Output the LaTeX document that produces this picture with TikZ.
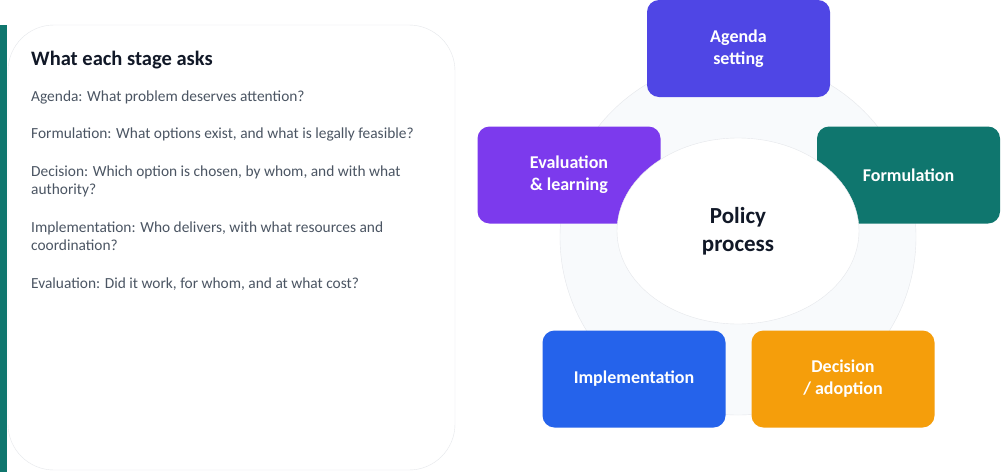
\documentclass[tikz,border=0pt]{standalone}
\usepackage{fontspec}
\setmainfont{Carlito}
\usetikzlibrary{shapes.geometric}
\definecolor{tealbar}{HTML}{0F766E}
\definecolor{agendac}{HTML}{4F46E5}
\definecolor{evalc}{HTML}{7C3AED}
\definecolor{implc}{HTML}{2563EB}
\definecolor{decic}{HTML}{F59E0B}
\definecolor{ringfill}{HTML}{F8FAFC}
\definecolor{ringline}{HTML}{E5E7EB}
\definecolor{qgray}{HTML}{4B5563}
\definecolor{inkc}{HTML}{111827}
\tikzset{
	stage/.style={rectangle, rounded corners=12pt, minimum width=183pt, minimum height=97pt, text=white, align=center, font=\bfseries\fontsize{18}{22}\selectfont},
	qline/.style={anchor=base west, inner sep=0pt, text=qgray, font=\fontsize{15.4}{18}\selectfont}
}
\begin{document}
\begin{tikzpicture}[x=1pt,y=-1pt]
		\useasboundingbox (0,0) rectangle (1005,472);
		\fill[white] (0,0) rectangle (1005,472);

		% left panel
		\draw[ringline, fill=white, rounded corners=46pt] (8,25) rectangle (455,470);
		\fill[tealbar] (0,25) rectangle (7,472);

		\node[anchor=base west, inner sep=0pt, text=inkc, font=\bfseries\fontsize{20.5}{22}\selectfont] (title) at (31,65) {What each stage asks};
		\node[qline] (q1) at (31,101) {Agenda: What problem deserves attention?};
		\node[qline] (q2) at (31,138) {Formulation: What options exist, and what is legally feasible?};
		\node[qline] (q3) at (31,176) {Decision: Which option is chosen, by whom, and with what};
		\node[qline] (q3b) at (31,194) {authority?};
		\node[qline] (q4) at (31,232) {Implementation: Who delivers, with what resources and};
		\node[qline] (q4b) at (31,250) {coordination?};
		\node[qline] (q5) at (31,288) {Evaluation: Did it work, for whom, and at what cost?};

		% cycle
		\draw[ringline, fill=ringfill] (738,237) circle (178);

		\node[stage, fill=agendac] (agenda) at (738.5,48.5) {Agenda\\setting};
		\node[stage, fill=tealbar] (form) at (908.5,175) {Formulation};
		\node[stage, fill=evalc] (eval) at (569,175) {Evaluation\\\& learning};
		\node[stage, fill=implc] (impl) at (634,379) {Implementation};
		\node[stage, fill=decic] (deci) at (843,379) {Decision\\/ adoption};

		\node[ellipse, draw=ringline, fill=white, minimum width=242pt, minimum height=186pt, text=inkc, align=center, font=\bfseries\fontsize{23}{28}\selectfont] (hub) at (738,231) {Policy\\process};
	\end{tikzpicture}
\end{document}
